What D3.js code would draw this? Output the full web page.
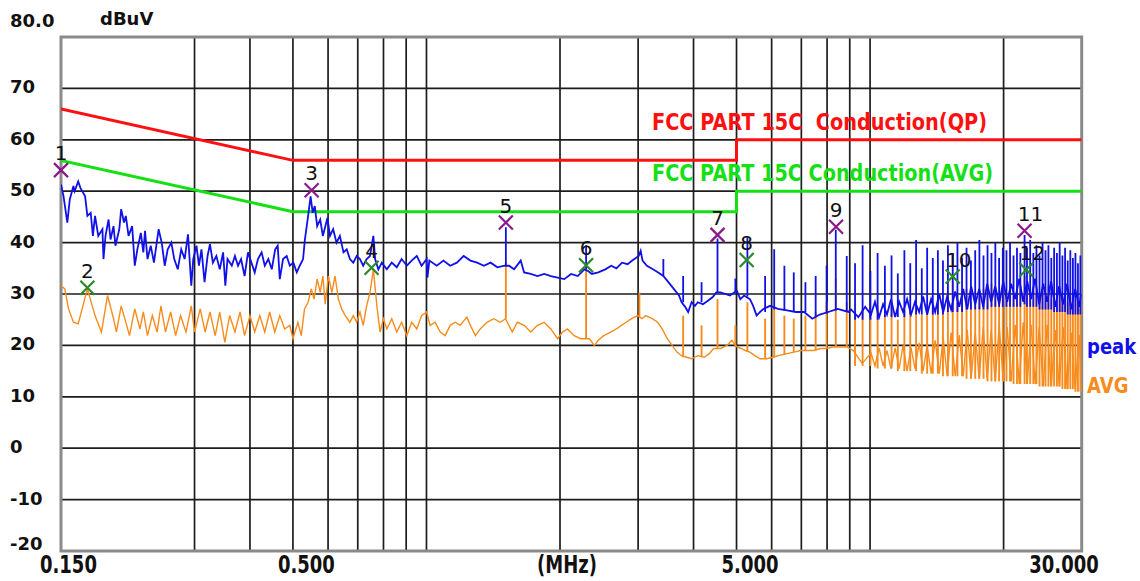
<!DOCTYPE html>
<html>
<head>
<meta charset="utf-8">
<script src="https://cdn.jsdelivr.net/npm/d3@7"></script>
<style>
  html, body { margin: 0; padding: 0; background: #fff; }
  svg text { font-family: "DejaVu Sans", sans-serif; white-space: pre; }
</style>
</head>
<body>
<div class="chart"></div>
<script>

// Axis values
var gridFreqs = [0.3, 0.4, 0.5, 0.6, 0.7, 0.8, 0.9, 1, 2, 3, 4, 5, 6, 7, 8, 9, 10, 20];
var yTicks = [80, 70, 60, 50, 40, 30, 20, 10, 0, -10, -20];
var yTickLabels = ["80.0", "70", "60", "50", "40", "30", "20", "10", "0", "-10", "-20"];
var xTickValues = [0.15, 0.5, 5, 30];
var xTickLabels = ["0.150", "0.500", "5.000", "30.000"];

// Limit lines [MHz, dBuV]
var qpLimit = [[0.15, 66], [0.5, 56], [5, 56], [5, 60], [30, 60]];
var avgLimit = [[0.15, 56], [0.5, 46], [5, 46], [5, 50], [30, 50]];

// Peak trace [MHz, dBuV]
var peakTrace = [[0.150,51.3],[0.152,49.0],[0.155,43.9],[0.157,48.4],[0.160,51.0],[0.161,50.0],[0.164,51.9],[0.166,50.6],[0.170,49.0],[0.172,45.2],[0.175,45.8],[0.177,41.3],[0.179,45.2],[0.182,41.3],[0.186,42.6],[0.187,36.8],[0.189,41.3],[0.192,44.5],[0.194,40.6],[0.197,43.2],[0.199,39.4],[0.203,42.6],[0.205,46.5],[0.208,43.9],[0.210,45.2],[0.213,41.3],[0.217,43.2],[0.220,35.5],[0.223,38.7],[0.227,41.9],[0.230,38.1],[0.232,42.3],[0.235,36.8],[0.239,39.4],[0.243,36.1],[0.249,42.6],[0.253,40.0],[0.257,35.5],[0.261,38.7],[0.266,40.0],[0.270,36.8],[0.275,34.8],[0.280,38.7],[0.285,36.8],[0.290,41.6],[0.295,31.6],[0.298,36.8],[0.303,39.4],[0.307,35.5],[0.311,38.7],[0.316,32.3],[0.321,37.4],[0.325,39.7],[0.330,36.1],[0.336,37.4],[0.342,34.8],[0.348,38.1],[0.352,31.6],[0.356,36.8],[0.364,35.5],[0.370,37.4],[0.376,35.5],[0.382,36.8],[0.389,33.5],[0.396,38.1],[0.403,36.1],[0.410,34.2],[0.417,36.8],[0.425,38.1],[0.432,35.5],[0.440,36.8],[0.448,34.8],[0.456,38.7],[0.462,39.4],[0.467,32.9],[0.475,36.8],[0.484,37.4],[0.492,35.5],[0.501,36.1],[0.510,34.2],[0.518,35.5],[0.527,36.8],[0.532,40.6],[0.541,45.2],[0.548,49.0],[0.554,45.8],[0.560,47.1],[0.567,43.2],[0.576,44.5],[0.584,41.3],
  [0.598,44.8],[0.606,41.3],[0.616,42.6],[0.627,40.0],[0.638,41.3],[0.650,38.1],[0.661,38.7],[0.672,36.8],[0.684,36.1],[0.696,37.4],[0.708,36.8],[0.720,35.5],[0.733,36.8],[0.746,37.4],[0.759,41.3],[0.766,36.8],[0.779,34.8],[0.793,36.1],[0.814,34.8],[0.835,36.1],[0.857,35.2],[0.879,36.8],[0.903,35.5],[0.926,36.5],[0.951,37.4],[0.975,35.5],[1.001,36.8],[1.005,33.2],[1.015,36.5],[1.055,35.5],[1.092,36.5],[1.131,35.5],[1.171,36.1],[1.213,37.4],[1.256,36.5],[1.301,36.1],[1.347,35.5],[1.395,36.1],[1.445,35.2],[1.500,35.5],[1.535,35.5],[1.576,34.8],[1.631,36.5],[1.660,34.2],[1.718,33.9],[1.779,33.5],[1.842,33.9],[1.907,33.5],[1.975,33.2],[2.045,32.9],[2.118,33.9],[2.193,33.5],[2.270,34.8],
  [2.310,34.5],[2.360,33.9],[2.440,34.2],[2.530,34.8],[2.610,35.5],[2.680,35.0],[2.760,36.1],[2.840,35.8],[2.910,36.5],[3.010,37.4],[3.040,38.4],[3.070,36.5],[3.140,35.5],[3.240,34.8],[3.330,34.2],[3.420,33.5],[3.510,32.3],[3.610,31.0],[3.710,29.7],[3.760,28.4],[3.830,27.5],[3.890,26.5],[3.960,28.4],[4.030,27.7],[4.090,28.4],[4.200,28.0],[4.310,28.7],[4.420,29.4],[4.500,30.3],[4.600,30.3],[4.720,30.0],[4.830,29.7],[4.940,30.3],[5.010,30.6],[5.100,29.0],[5.200,29.7],[5.360,29.0],[5.450,27.7],[5.550,25.8],[5.650,26.5],[5.750,27.1],[5.950,27.7],[6.200,27.1],[6.500,26.8],[6.800,26.5],[7.100,26.5],[7.410,25.2],[7.700,26.0],[8.050,26.5],[8.450,27.1],[8.940,26.5],
  [9.06,27.0],[9.41,25.5],[9.75,27.5],[10.05,26.0],[10.26,28.5],[10.48,25.5],[10.70,28.0],[10.92,26.0],[11.15,29.0],[11.39,25.5],[11.63,28.5],[11.87,26.5],[12.12,29.0],[12.37,26.0],[12.63,28.5],[12.90,26.5],[13.17,29.5],[13.45,26.0],[13.73,29.0],[14.02,26.5],[14.32,30.0],[14.62,26.5],[14.92,29.5],[15.23,27.0],[15.56,30.5],[15.89,27.5],[16.22,31.0],[16.56,27.0],[16.90,31.5],[17.26,28.0],[17.62,31.0],[17.99,27.5],[18.37,32.0],[18.75,28.5],[19.15,31.5],[19.55,28.0],[19.96,32.5],[20.38,28.5],[20.80,32.0],[21.24,29.0],[21.69,33.0],[22.14,28.5],[22.61,32.5],[23.07,29.0],[23.56,33.0],[24.06,28.0],[24.56,32.0],[25.08,28.5],[25.60,32.5],[26.14,27.5],[26.69,31.5],[27.25,28.0],[27.82,32.0],[28.40,27.0],[29.00,31.0],[29.61,27.5],[29.91,30.0]];

// Narrow peak spikes [MHz, low dBuV, high dBuV]
var peakSpikes = [[1.51,35.5,43.0],[2.29,34.8,39.5],[3.42,33.5,36.8],[3.79,28.4,33.5],[4.17,28.4,32.3],[4.53,30.3,40.8],[4.97,30.3,33.0],[5.29,29.5,41.0],[5.80,26.5,33.5],[6.08,27.0,38.7],[6.41,26.8,35.5],[6.73,26.5,34.2],[7.15,26.5,32.3],[7.54,25.5,33.5],[7.98,26.2,35.5],[8.37,26.8,42.5],[8.86,26.5,37.4],
  [9.25,25,36.0],[9.62,25,39.5],[10.02,25,34.5],[10.40,25,38.0],[10.80,25.5,35.5],[11.18,25.5,37.5],[11.55,25.5,34.0],[11.95,25.5,38.5],[12.32,26,36.0],[12.70,26,40.5],[13.08,26,35.0],[13.45,26,39.0],[13.85,26,37.0],[14.22,26,38.5],[14.60,26,36.5],[14.98,26.5,39.5],[15.36,26.5,38.0],[15.74,26.5,40.0],[16.12,26.5,37.0],[16.50,27,39.0],[16.88,27,36.5],[17.26,27,38.5],[17.64,27,40.5],[18.02,27,37.5],[18.40,27,39.5],[18.78,27.5,38.0],[19.16,27.5,40.0],[19.54,27.5,37.0],[19.92,27.5,39.0],[20.30,27.5,38.5],[20.68,27.5,40.0],[21.06,27.5,37.5],[21.44,27.5,39.0],[21.82,27.5,38.0],[22.30,28,41.5],[22.58,27.5,39.0],[22.96,27.5,40.5],[23.34,27.5,38.0],[23.72,27.5,39.5],[24.10,27,37.5],[24.48,27,40.0],[24.86,27,38.5],[25.24,27,39.5],[25.62,27,37.0],[26.00,26.5,39.0],[26.38,26.5,38.0],[26.76,26.5,40.0],[27.14,26.5,37.5],[27.52,26.5,39.0],[27.90,26,36.5],[28.28,26,38.5],[28.66,26,37.0],[29.04,26,38.0],[29.42,26,36.0],[29.80,26,37.5]];

// Average trace [MHz, dBuV]
var avgTrace = [[0.150,31.6],[0.153,31.0],[0.156,27.1],[0.160,24.5],[0.164,24.2],[0.172,31.0],[0.179,25.8],[0.185,22.6],[0.191,29.7],[0.197,25.2],[0.200,22.6],[0.205,27.7],[0.211,23.9],[0.214,21.9],[0.220,27.1],[0.226,23.2],[0.230,26.5],[0.235,21.9],[0.241,25.8],[0.247,22.6],[0.252,27.7],[0.258,22.6],[0.265,26.5],[0.272,21.9],[0.279,25.8],[0.287,22.6],[0.295,27.7],[0.300,22.6],[0.309,27.1],[0.317,22.6],[0.325,26.5],[0.334,21.9],[0.342,26.5],[0.351,20.6],[0.360,25.8],[0.370,22.6],[0.380,26.5],[0.389,21.9],[0.400,25.8],[0.410,22.6],[0.421,25.8],[0.432,22.6],[0.443,26.5],[0.455,22.6],[0.467,25.8],[0.479,23.2],[0.492,23.9],[0.500,21.3],[0.513,24.5],[0.522,21.9],[0.531,27.1],[0.541,28.4],[0.550,31.0],[0.558,29.0],[0.567,32.9],[0.576,30.3],[0.584,33.5],
  [0.591,28.0],[0.601,33.5],[0.612,30.3],[0.622,33.5],[0.633,29.0],[0.644,27.1],[0.656,25.8],[0.672,24.5],[0.684,25.8],[0.696,24.5],[0.708,26.5],[0.720,23.9],[0.733,27.7],[0.746,30.3],[0.759,34.8],[0.773,27.7],[0.786,22.6],[0.800,25.2],[0.814,23.2],[0.835,25.2],[0.857,22.6],[0.879,24.5],[0.903,21.9],[0.926,24.5],[0.951,23.2],[0.975,25.8],[1.001,26.5],[1.019,23.9],[1.046,24.5],[1.074,22.6],[1.102,21.9],[1.131,23.9],[1.161,24.5],[1.191,23.9],[1.233,25.5],[1.256,23.9],[1.289,21.9],[1.322,23.2],[1.369,24.5],[1.418,25.2],[1.468,24.5],[1.507,25.2],[1.561,22.6],[1.602,24.5],[1.660,23.9],[1.718,22.6],[1.779,23.9],[1.842,24.5],[1.907,23.2],[1.975,21.3],[2.026,22.6],[2.079,23.2],[2.152,21.9],[2.227,21.3],
  [2.33,21.3],[2.39,20.0],[2.44,21.0],[2.51,21.9],[2.60,22.6],[2.68,23.2],[2.75,23.9],[2.82,24.5],[2.90,25.2],[2.99,25.8],[3.06,25.2],[3.12,25.8],[3.23,25.2],[3.32,24.5],[3.40,23.2],[3.49,21.3],[3.58,20.0],[3.67,18.7],[3.76,18.0],[3.86,17.7],[3.96,17.4],[4.09,18.0],[4.23,17.7],[4.34,18.4],[4.44,19.4],[4.60,19.4],[4.76,20.0],[4.88,21.0],[5.01,19.7],[5.13,19.4],[5.23,19.0],[5.36,18.7],[5.50,18.0],[5.65,17.4],[5.85,17.4],[6.04,17.7],[6.27,18.1],[6.50,18.4],[6.74,18.7],[6.97,19.0],[7.22,19.0],[7.47,19.0],[7.73,19.4],[8.00,19.4],[8.27,19.7],[8.56,19.7],[8.86,19.7],
  [9.17,19.0],[9.60,16.5],[10.05,18.5],[10.26,16.0],[10.48,19.5],[10.70,16.0],[10.92,19.0],[11.15,15.5],[11.39,19.5],[11.63,15.5],[11.87,20.0],[12.12,15.0],[12.37,19.5],[12.63,15.5],[12.90,20.5],[13.17,15.0],[13.45,20.0],[13.73,14.5],[14.02,21.0],[14.32,14.5],[14.62,21.5],[14.92,14.0],[15.23,22.5],[15.56,14.0],[15.89,22.0],[16.22,14.0],[16.56,23.0],[16.90,13.5],[17.26,22.5],[17.62,13.5],[17.99,23.5],[18.37,13.5],[18.75,23.0],[19.15,13.0],[19.55,24.0],[19.96,13.0],[20.38,23.5],[20.80,13.0],[21.24,24.0],[21.69,12.5],[22.14,24.5],[22.61,12.5],[23.07,24.0],[23.56,12.5],[24.06,23.5],[24.56,12.0],[25.08,24.0],[25.60,12.0],[26.14,23.0],[26.69,12.0],[27.25,23.5],[27.82,11.5],[28.40,22.5],[29.00,11.5],[29.61,22.0],[29.91,11.0]];

// Narrow average spikes [MHz, low dBuV, high dBuV]
var avgSpikes = [[1.51,25.2,36.1],[2.29,21.3,34.8],[3.02,25.5,30.3],[3.79,17.7,25.8],[4.17,17.7,23.9],[4.53,19.4,29.0],[4.97,19.7,23.9],[5.29,18.7,28.4],[5.80,17.4,25.2],[6.08,17.7,27.1],[6.41,18.2,25.8],[6.73,18.7,25.2],[7.15,19.0,25.8],[7.54,19.0,26.5],[7.98,19.4,28.4],[8.37,19.7,33.0],[8.86,19.7,28.4],
  [9.25,16,26.5],[9.62,16,27.0],[10.02,16,25.5],[10.40,15.5,27.5],[10.80,15.5,26.0],[11.18,15.5,28.0],[11.55,15,25.0],[11.95,15,27.0],[12.32,15,26.5],[12.70,15,28.5],[13.08,14.5,26.0],[13.45,14.5,28.0],[13.85,14.5,27.5],[14.22,14.5,29.5],[14.60,14,28.0],[14.98,14,30.5],[15.36,14,32.5],[15.74,14,30.0],[16.12,14,29.0],[16.50,13.5,31.0],[16.88,13.5,28.5],[17.26,13.5,30.5],[17.64,13.5,29.5],[18.02,13.5,31.0],[18.40,13,30.0],[18.78,13,32.0],[19.16,13,30.5],[19.54,13,29.5],[19.92,13,31.5],[20.30,13,30.0],[20.68,13,31.0],[21.06,12.5,29.5],[21.44,12.5,30.5],[21.82,12.5,31.5],[22.30,12.5,33.5],[22.58,12.5,31.0],[22.96,12.5,30.0],[23.34,12.5,31.5],[23.72,12.5,30.0],[24.10,12,29.5],[24.48,12,31.0],[24.86,12,30.0],[25.24,12,31.5],[25.62,12,29.0],[26.00,12,30.5],[26.38,12,29.5],[26.76,12,31.0],[27.14,11.5,29.0],[27.52,11.5,30.0],[27.90,11.5,28.5],[28.28,11.5,29.5],[28.66,11.5,28.0],[29.04,11,29.0],[29.42,11,27.5],[29.80,11,28.0]];

// Measurement markers
var markerNo = ["1", "2", "3", "4", "5", "6", "7", "8", "9", "10", "11", "12"];
var markerFreq = [0.150, 0.172, 0.551, 0.752, 1.51, 2.29, 4.53, 5.27, 8.38, 15.36, 22.3, 22.5];
var markerDb = [54.1, 31.2, 50.2, 35.1, 43.9, 35.6, 41.5, 36.6, 43.1, 33.4, 42.3, 34.7];
var markerKind = ["peak", "avg", "peak", "avg", "peak", "avg", "peak", "avg", "peak", "avg", "peak", "avg"];

// Configuration
var width = 1140;
var height = 581;
var plotLeft = 61, plotRight = 1081.7, plotTop = 37, plotBottom = 551;
var blue = "#1010e8", orange = "#f78c1c", red = "#ff1010", green = "#14e014";

var svg = d3.select(".chart").append("svg")
    .attr("width", width)
    .attr("height", height);

var x = d3.scaleLog().domain([0.15, 30]).range([plotLeft, plotRight]);
var y = d3.scaleLinear().domain([-20, 80]).range([plotBottom, plotTop]);

svg.append("defs").append("clipPath")
    .attr("id", "plotClip")
    .append("rect")
    .attr("x", plotLeft).attr("y", plotTop)
    .attr("width", plotRight - plotLeft).attr("height", plotBottom - plotTop);

// Grid
svg.selectAll("line.hgrid")
    .data(yTicks.slice(1, -1))
    .enter().append("line")
    .attr("x1", plotLeft).attr("x2", plotRight)
    .attr("y1", d => y(d)).attr("y2", d => y(d))
    .attr("stroke", "#1c1c1c").attr("stroke-width", 1.7);

svg.selectAll("line.vgrid")
    .data(gridFreqs)
    .enter().append("line")
    .attr("x1", d => x(d)).attr("x2", d => x(d))
    .attr("y1", plotTop).attr("y2", plotBottom)
    .attr("stroke", "#1c1c1c").attr("stroke-width", 1.7);

// Frame
svg.append("rect")
    .attr("x", plotLeft).attr("y", plotTop)
    .attr("width", plotRight - plotLeft).attr("height", plotBottom - plotTop)
    .attr("fill", "none").attr("stroke", "#8a8a8a").attr("stroke-width", 3);

// Y labels
svg.selectAll("text.ylab")
    .data(yTicks)
    .enter().append("text")
    .attr("x", 10)
    .attr("y", (d, i) => i == 0 ? 27 : (i == yTicks.length - 1 ? y(d) - 1 : y(d) + 5))
    .attr("font-size", 18).attr("font-weight", "bold").attr("fill", "#111")
    .text((d, i) => yTickLabels[i]);

svg.append("text")
    .attr("x", 100).attr("y", 25)
    .attr("font-size", 18).attr("font-weight", "bold").attr("fill", "#111")
    .text("dBuV");

// X labels (stretched like the bitmap font)
svg.selectAll("text.xlab")
    .data(xTickValues)
    .enter().append("text")
    .attr("transform", (d, i) => {
        var px = i == 0 ? x(d) - 21 : (i == xTickValues.length - 1 ? x(d) + 17 : x(d) - 15);
        return "translate(" + px + ",573) scale(1,1.35)";
    })
    .attr("text-anchor", (d, i) => i == xTickValues.length - 1 ? "end" : "start")
    .attr("font-size", 18).attr("font-weight", "bold").attr("fill", "#111")
    .text((d, i) => xTickLabels[i]);

svg.append("text")
    .attr("transform", "translate(567,573) scale(1,1.35)")
    .attr("text-anchor", "middle")
    .attr("font-size", 18).attr("font-weight", "bold").attr("fill", "#111")
    .text("(MHz)");

var line = d3.line()
    .x(d => x(d[0]))
    .y(d => y(d[1]));

var plot = svg.append("g").attr("clip-path", "url(#plotClip)");

// Limit lines
plot.append("path").datum(qpLimit)
    .attr("d", line).attr("fill", "none")
    .attr("stroke", red).attr("stroke-width", 3);
plot.append("path").datum(avgLimit)
    .attr("d", line).attr("fill", "none")
    .attr("stroke", green).attr("stroke-width", 3);

// Traces
plot.append("path").datum(avgTrace)
    .attr("d", line).attr("fill", "none")
    .attr("stroke", orange).attr("stroke-width", 1.4);
plot.selectAll("line.avgspike")
    .data(avgSpikes)
    .enter().append("line")
    .attr("x1", d => x(d[0])).attr("x2", d => x(d[0]))
    .attr("y1", d => y(d[1])).attr("y2", d => y(d[2]))
    .attr("stroke", orange).attr("stroke-width", 1.9);

plot.append("path").datum(peakTrace)
    .attr("d", line).attr("fill", "none")
    .attr("stroke", blue).attr("stroke-width", 1.8);
plot.selectAll("line.peakspike")
    .data(peakSpikes)
    .enter().append("line")
    .attr("x1", d => x(d[0])).attr("x2", d => x(d[0]))
    .attr("y1", d => y(d[1])).attr("y2", d => y(d[2]))
    .attr("stroke", blue).attr("stroke-width", 1.8);

// Markers
var markers = svg.selectAll("g.marker")
    .data(markerNo)
    .enter().append("g")
    .attr("transform", (d, i) => "translate(" + x(markerFreq[i]) + "," + y(markerDb[i]) + ")");

markers.append("path")
    .attr("d", "M-7,-7L7,7M7,-7L-7,7")
    .attr("stroke", (d, i) => markerKind[i] == "peak" ? "#8a1a8a" : "#2a8a2a")
    .attr("stroke-width", 2.2);

markers.append("text")
    .attr("x", d => d.length > 1 ? 6 : 0)
    .attr("y", -10)
    .attr("text-anchor", "middle")
    .attr("font-size", 20).attr("fill", "#111")
    .text(d => d);

// Legend texts
svg.append("text")
    .attr("transform", "translate(652,130) scale(1,1.3)")
    .attr("textLength", 335).attr("lengthAdjust", "spacingAndGlyphs")
    .attr("font-size", 18).attr("font-weight", "bold").attr("fill", red)
    .text("FCC PART 15C  Conduction(QP)");

svg.append("text")
    .attr("transform", "translate(652,181) scale(1,1.3)")
    .attr("textLength", 341).attr("lengthAdjust", "spacingAndGlyphs")
    .attr("font-size", 18).attr("font-weight", "bold").attr("fill", green)
    .text("FCC PART 15C Conduction(AVG)");

svg.append("text")
    .attr("transform", "translate(1087,354) scale(1,1.2)")
    .attr("font-size", 18).attr("font-weight", "bold").attr("fill", blue)
    .text("peak");

svg.append("text")
    .attr("transform", "translate(1087,393) scale(1,1.2)")
    .attr("font-size", 18).attr("font-weight", "bold").attr("fill", orange)
    .text("AVG");

</script>
</body>
</html>
